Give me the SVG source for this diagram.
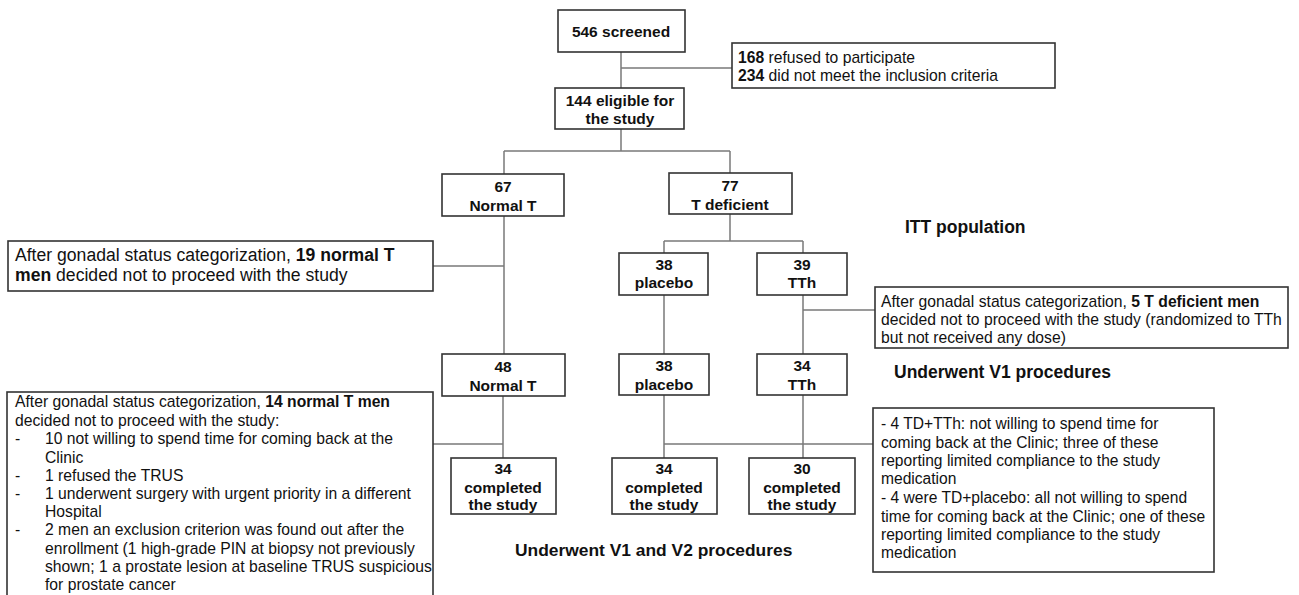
<svg xmlns="http://www.w3.org/2000/svg" width="1299" height="595" viewBox="0 0 1299 595">
<style>
.box{fill:#fff;stroke:#333;stroke-width:1.6}
.ln{stroke:#7a7a7a;stroke-width:1.5;fill:none}
.nb{font-family:"Liberation Sans",Arial,sans-serif;font-weight:bold;font-size:15.5px;fill:#111;text-anchor:middle}
.t{font-family:"Liberation Sans",Arial,sans-serif;font-size:15.7px;fill:#111}
.t8{font-family:"Liberation Sans",Arial,sans-serif;font-size:15.6px;fill:#111}
.t16{font-family:"Liberation Sans",Arial,sans-serif;font-size:17.6px;fill:#111}
.lab{font-family:"Liberation Sans",Arial,sans-serif;font-weight:bold;font-size:17.5px;fill:#111}
.b{font-weight:bold}
</style>
<rect width="1299" height="595" fill="#fff"/>
<g id="connectors">
<path class="ln" d="M621 52V88M621 68H732"/>
<path class="ln" d="M621 129V151M504 151H730M504 151V174M730 151V173"/>
<path class="ln" d="M504 216V354M433 266H504"/>
<path class="ln" d="M730 213V241M664 241H803M664 241V253M803 241V253"/>
<path class="ln" d="M664 295V354M803 295V354M803 310H875"/>
<path class="ln" d="M503 396V458M433 444H503"/>
<path class="ln" d="M664 395V458M803 395V458M664 444H873"/>
</g>
<g id="n_screened"><rect class="box" x="558" y="10" width="127" height="42"/><text class="nb" x="621" y="37">546 screened</text></g>
<g id="n_excl1"><rect class="box" x="732" y="43" width="323" height="45"/>
<text class="t" x="738" y="63"><tspan class="b">168</tspan> refused to participate</text>
<text class="t" x="738" y="81"><tspan class="b">234</tspan> did not meet the inclusion criteria</text></g>
<g id="n_eligible"><rect class="box" x="555" y="88" width="129" height="41"/><text class="nb" x="620" y="106">144 eligible for</text><text class="nb" x="620" y="124">the study</text></g>
<g id="n_normal67"><rect class="box" x="442" y="174" width="122" height="42"/><text class="nb" x="503" y="192">67</text><text class="nb" x="503" y="211">Normal T</text></g>
<g id="n_tdef77"><rect class="box" x="669" y="173" width="123" height="41"/><text class="nb" x="730" y="191">77</text><text class="nb" x="730" y="210">T deficient</text></g>
<g id="n_excl19"><rect class="box" x="8" y="241" width="425" height="50"/>
<text class="t16" x="15" y="261">After gonadal status categorization, <tspan class="b">19 normal T</tspan></text>
<text class="t16" x="15" y="281"><tspan class="b">men</tspan> decided not to proceed with the study</text></g>
<g id="n_placebo38"><rect class="box" x="619" y="253" width="89" height="42"/><text class="nb" x="664" y="270">38</text><text class="nb" x="664" y="288">placebo</text></g>
<g id="n_tth39"><rect class="box" x="757" y="253" width="90" height="42"/><text class="nb" x="802" y="270">39</text><text class="nb" x="802" y="288">TTh</text></g>
<text class="lab" x="905" y="233">ITT population</text>
<g id="n_excl5"><rect class="box" x="875" y="287" width="413" height="61"/>
<text class="t" x="881" y="307">After gonadal status categorization, <tspan class="b">5 T deficient men</tspan></text>
<text class="t" x="881" y="325">decided not to proceed with the study (randomized to TTh</text>
<text class="t" x="881" y="343">but not received any dose)</text></g>
<text class="lab" x="894" y="378">Underwent V1 procedures</text>
<g id="n_normal48"><rect class="box" x="442" y="354" width="123" height="42"/><text class="nb" x="503" y="372">48</text><text class="nb" x="503" y="391">Normal T</text></g>
<g id="n_placebo38b"><rect class="box" x="619" y="354" width="90" height="41"/><text class="nb" x="664" y="371">38</text><text class="nb" x="664" y="390">placebo</text></g>
<g id="n_tth34"><rect class="box" x="757" y="354" width="90" height="41"/><text class="nb" x="802" y="371">34</text><text class="nb" x="802" y="390">TTh</text></g>
<g id="n_excl14"><rect class="box" x="7" y="392" width="426" height="210"/>
<text class="t" x="15" y="407">After gonadal status categorization, <tspan class="b">14 normal T men</tspan></text>
<text class="t" x="15" y="426">decided not to proceed with the study:</text>
<text class="t" x="15" y="444">-</text><text class="t" x="45" y="444">10 not willing to spend time for coming back at the</text>
<text class="t" x="45" y="463">Clinic</text>
<text class="t" x="15" y="481">-</text><text class="t" x="45" y="481">1 refused the TRUS</text>
<text class="t" x="15" y="499">-</text><text class="t" x="45" y="499">1 underwent surgery with urgent priority in a different</text>
<text class="t" x="45" y="517">Hospital</text>
<text class="t" x="15" y="535">-</text><text class="t" x="45" y="535">2 men an exclusion criterion was found out after the</text>
<text class="t" x="45" y="554">enrollment (1 high-grade PIN at biopsy not previously</text>
<text class="t" x="45" y="572">shown; 1 a prostate lesion at baseline TRUS suspicious</text>
<text class="t" x="45" y="590">for prostate cancer</text></g>
<g id="n_comp34a"><rect class="box" x="451" y="458" width="105" height="56"/><text class="nb" x="503" y="474">34</text><text class="nb" x="503" y="493">completed</text><text class="nb" x="503" y="510">the study</text></g>
<g id="n_comp34b"><rect class="box" x="612" y="458" width="105" height="56"/><text class="nb" x="664" y="474">34</text><text class="nb" x="664" y="493">completed</text><text class="nb" x="664" y="510">the study</text></g>
<g id="n_comp30"><rect class="box" x="749" y="458" width="106" height="56"/><text class="nb" x="802" y="474">30</text><text class="nb" x="802" y="493">completed</text><text class="nb" x="802" y="510">the study</text></g>
<g id="n_excl8"><rect class="box" x="873" y="408" width="341" height="164"/>
<text class="t8" x="881" y="429">- 4 TD+TTh: not willing to spend time for</text>
<text class="t8" x="881" y="448">coming back at the Clinic; three of these</text>
<text class="t8" x="881" y="466">reporting limited compliance to the study</text>
<text class="t8" x="881" y="484">medication</text>
<text class="t8" x="881" y="503">- 4 were TD+placebo: all not willing to spend</text>
<text class="t8" x="881" y="522">time for coming back at the Clinic; one of these</text>
<text class="t8" x="881" y="540">reporting limited compliance to the study</text>
<text class="t8" x="881" y="558">medication</text></g>
<text class="lab" x="515" y="556" style="font-size:17.4px">Underwent V1 and V2 procedures</text>
</svg>
